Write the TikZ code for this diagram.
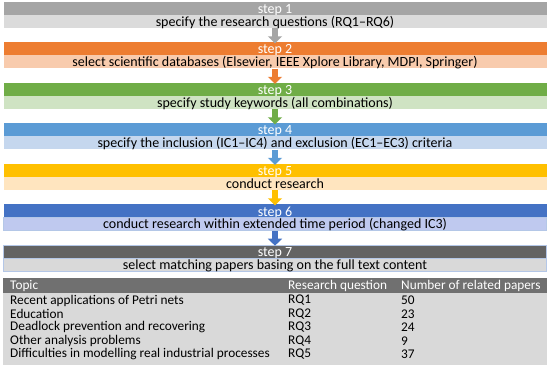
\documentclass[tikz,border=0pt]{standalone}
\usepackage{fontspec}
\setmainfont{Carlito}
\usetikzlibrary{arrows.meta}
\definecolor{h1}{HTML}{A5A5A5}\definecolor{b1}{HTML}{DBDBDB}
\definecolor{h2}{HTML}{ED7D31}\definecolor{b2}{HTML}{F8CBAD}
\definecolor{h3}{HTML}{70AD47}\definecolor{b3}{HTML}{CFE3C3}
\definecolor{h4}{HTML}{5B9BD5}\definecolor{b4}{HTML}{C5D7EE}
\definecolor{h5}{HTML}{FFC000}\definecolor{b5}{HTML}{FFE5BF}
\definecolor{h6}{HTML}{4472C4}\definecolor{b6}{HTML}{BFC9EF}
\definecolor{h7}{HTML}{636363}\definecolor{b7}{HTML}{D9D9D9}
\definecolor{th}{HTML}{707070}\definecolor{tb}{HTML}{D9D9D9}
\definecolor{edge7}{HTML}{B4C7E7}
\tikzset{
  bar/.style={minimum width=543pt, minimum height=13pt, inner sep=0pt, text height=10pt, text depth=0pt, font=\fontsize{14}{15}\selectfont},
  hdr/.style={bar, text=white},
  bdy/.style={bar, text=black},
  flow/.style={line width=6pt, -{Triangle[width=14pt,length=7pt]}},
  cell/.style={anchor=west, inner sep=0pt, font=\fontsize{13.3}{14}\selectfont},
}
\begin{document}
\begin{tikzpicture}[x=1pt,y=-1pt]
\useasboundingbox (0,0) rectangle (550,369);
\fill[white] (0,0) rectangle (550,369);
% steps
\node[hdr, fill=h1] (s1h) at (275,8.5) {step 1};
\node[bdy, fill=b1] (s1b) at (275,21.5) {specify the research questions (RQ1--RQ6)};
\node[hdr, fill=h2] (s2h) at (275,49) {step 2};
\node[bdy, fill=b2] (s2b) at (275,62) {select scientific databases (Elsevier, IEEE Xplore Library, MDPI, Springer)};
\node[hdr, fill=h3] (s3h) at (275,89.5) {step 3};
\node[bdy, fill=b3] (s3b) at (275,102.5) {specify study keywords (all combinations)};
\node[hdr, fill=h4] (s4h) at (275,130) {step 4};
\node[bdy, fill=b4] (s4b) at (275,143) {specify the inclusion (IC1--IC4) and exclusion (EC1--EC3) criteria};
\node[hdr, fill=h5] (s5h) at (275,170.5) {step 5};
\node[bdy, fill=b5] (s5b) at (275,183.5) {conduct research};
\node[hdr, fill=h6] (s6h) at (275,211) {step 6};
\node[bdy, fill=b6, draw=edge7, line width=0.6pt] (s6b) at (275,224) {conduct research within extended time period (changed IC3)};
\node[hdr, fill=h7, draw=edge7, line width=0.6pt] (s7h) at (275,251.5) {step 7};
\node[bdy, fill=b7, draw=edge7, line width=0.6pt] (s7b) at (275,264.5) {select matching papers basing on the full text content};
% arrows
\draw[flow, h1] (s1b.south) -- ([yshift=-1pt]s2h.north);
\draw[flow, h2] (s2b.south) -- ([yshift=-1pt]s3h.north);
\draw[flow, h3] (s3b.south) -- ([yshift=-1pt]s4h.north);
\draw[flow, h4] (s4b.south) -- ([yshift=-1pt]s5h.north);
\draw[flow, h5] (s5b.south) -- ([yshift=-1pt]s6h.north);
\draw[flow, h6] (s6b.south) -- ([yshift=-1pt]s7h.north);
% table
\fill[tb] (3,278) rectangle (547,365);
\fill[th] (3,278) rectangle (547,293);
\node[cell, text=white] (t0a) at (10,285.5) {Topic};
\node[cell, text=white] (t0b) at (288,285.5) {Research question};
\node[cell, text=white] (t0c) at (401,285.5) {Number of related papers};
\node[cell] (t1a) at (10,300.5) {Recent applications of Petri nets};
\node[cell] (t1b) at (288,300.5) {RQ1};
\node[cell] (t1c) at (401,300.5) {50};
\node[cell] (t2a) at (10,314) {Education};
\node[cell] (t2b) at (288,314) {RQ2};
\node[cell] (t2c) at (401,314) {23};
\node[cell] (t3a) at (10,327.5) {Deadlock prevention and recovering};
\node[cell] (t3b) at (288,327.5) {RQ3};
\node[cell] (t3c) at (401,327.5) {24};
\node[cell] (t4a) at (10,341) {Other analysis problems};
\node[cell] (t4b) at (288,341) {RQ4};
\node[cell] (t4c) at (401,341) {9};
\node[cell] (t5a) at (10,354.5) {Difficulties in modelling real industrial processes};
\node[cell] (t5b) at (288,354.5) {RQ5};
\node[cell] (t5c) at (401,354.5) {37};
\end{tikzpicture}
\end{document}
